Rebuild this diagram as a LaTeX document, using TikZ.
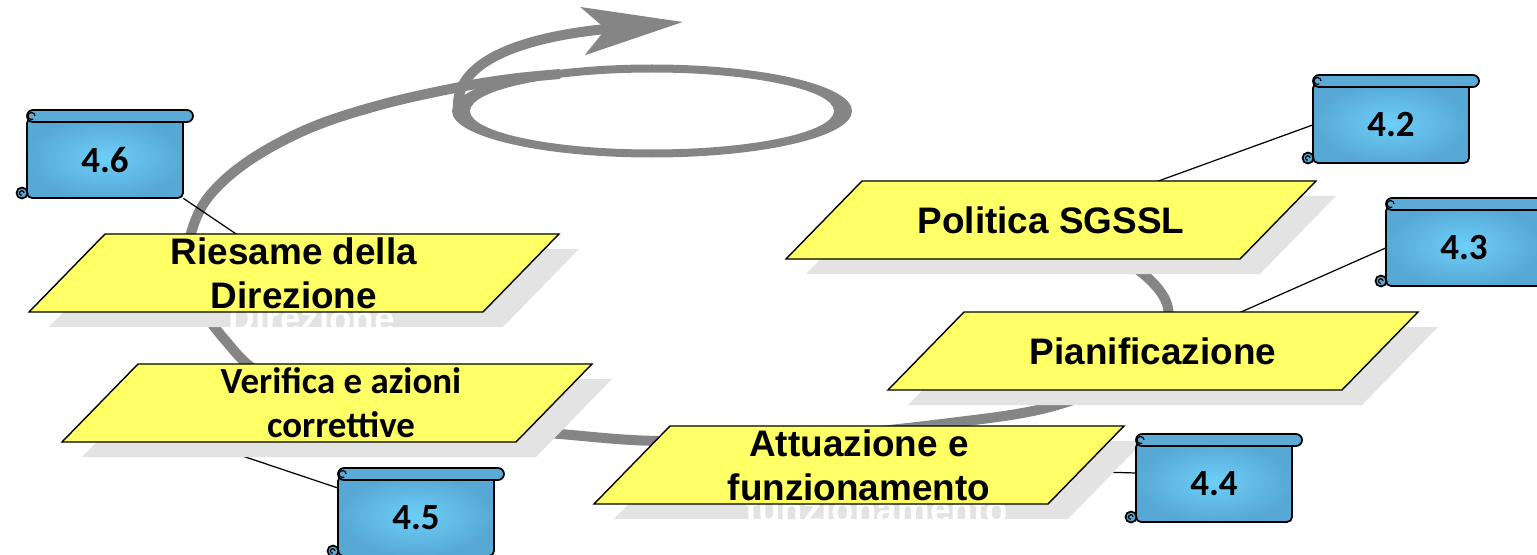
\documentclass[tikz,border=0pt]{standalone}
\usepackage{fontspec}
\setmainfont{Liberation Sans}
\newfontfamily\carlito{Carlito}
\usetikzlibrary{calc,arrows.meta}
\definecolor{plate}{HTML}{FFFF66}
\definecolor{plateshade}{HTML}{E3E3E3}
\definecolor{spiralgray}{HTML}{858585}
\definecolor{scrolllight}{HTML}{6DCFF8}
\definecolor{scrolldark}{HTML}{57A8D5}
\definecolor{scrollroll}{HTML}{5BABD6}
\pgfdeclarelayer{back}
\pgfsetlayers{back,main}
\tikzset{
  platebox/.style={fill=plate, draw=black, line width=0.8pt, line join=miter},
  spiral/.style={draw=spiralgray, line width=2mm},
  tie/.style={draw=black, line width=0.7pt},
  lab/.style={font=\fontsize{21}{25}\selectfont\bfseries, align=center, inner sep=0pt},
  labc/.style={lab, font=\carlito\fontsize{21}{25}\selectfont\bfseries},
  ghost/.style={lab, text=white},
  scrollline/.style={draw=black, line width=1pt},
  scrolllab/.style={font=\carlito\fontsize{21}{25}\selectfont\bfseries, minimum width=31.2mm, minimum height=15.2mm, inner sep=0pt},
  scroll/.pic={
    \shade[inner color=scrolllight, outer color=scrolldark, rounded corners=1mm] (0,8) rectangle (156,88);
    \draw[scrollline, rounded corners=1mm] (0,8) rectangle (156,88);
    \draw[scrollline, fill=scrollroll, rounded corners=1.2mm] (0,0) rectangle (166,12);
    \draw[scrollline, fill=scrollroll] (-5,83) circle (1.1mm);
    \draw[scrollline, line width=0.7pt] (-3,83) arc[start angle=0, end angle=270, radius=0.45mm];
    \draw[scrollline, line width=0.7pt] (8,6) arc[start angle=0, end angle=300, radius=0.7mm];
    \node[scrolllab] (-b) at (78,50) {#1};
  },
}

\begin{document}
\begin{tikzpicture}[x=0.2mm, y=-0.2mm]
  \useasboundingbox (0,0) rectangle (1537,555);
  \clip (0,0) rectangle (1537,555);

  % steps of the cycle
  \node[lab] (pol) at (1051,220) {Politica SGSSL};
  \node[lab] (pian) at (1153,351) {Pianificazione};
  \node[lab] (att) at (859,465) {Attuazione e\\funzionamento};
  \node[labc] (ver) at (341,403) {Verifica e azioni\\correttive};
  \node[lab] (ries) at (294,273) {Riesame della\\Direzione};

  % clauses
  \pic (s42) at (1313,75) {scroll=4.2};
  \pic (s43) at (1386,198) {scroll=4.3};
  \pic (s44) at (1136,434) {scroll=4.4};
  \pic (s45) at (338,468) {scroll=4.5};
  \pic (s46) at (27,110) {scroll=4.6};

  \coordinate (verend) at (150,425);

  \begin{pgfonlayer}{back}
    % spiral
    \draw[spiral] plot[smooth, tension=0.6] coordinates {(1050,228) (1105,250) (1148,278) (1168,308) (1160,340) (1120,378) (1050,407) (950,423) (800,438) (660,441) (560,434) (430,422) (320,400) (258,372) (225,340) (200,305) (187,268) (192,230) (210,195) (250,160) (310,128) (380,105) (455,88) (510,79) (560,74)};
    \fill[spiralgray, even odd rule] (652,111) ellipse [x radius=40mm, y radius=9.3mm] (652,111) ellipse [x radius=36.4mm, y radius=7.7mm];
    \draw[spiral, -{Stealth[length=20mm, width=9.5mm, inset=4.5mm]}] (458,108) .. controls (455,55) and (540,35) .. (683,22);

    % ties
    \draw[tie] (pol.center) -- (s42-b.west);
    \draw[tie] (pian.center) -- (s43-b.west);
    \draw[tie] (att.center) -- (s44-b.172);
    \draw[tie] (verend) -- (s45-b.159);
    \draw[tie] (ries.center) -- (s46-b.south east);

    % plates
    \foreach \p/\dx in {pol/0, pian/0, att/0, ver/-14, ries/0}
      \fill[plateshade] ($(\p)+(\dx,0)$) ++(-169,-24) -- ++(454,0) -- ++(-76,78) -- ++(-454,0) -- cycle;
    \node[ghost] at (312,318) {Direzione};
    \node[ghost] at (877,509) {funzionamento};
    \foreach \p/\dx in {pol/0, pian/0, att/0, ver/-14, ries/0}
      \draw[platebox] ($(\p)+(\dx,0)$) ++(-189,-39) -- ++(454,0) -- ++(-76,78) -- ++(-454,0) -- cycle;
  \end{pgfonlayer}
\end{tikzpicture}
\end{document}
